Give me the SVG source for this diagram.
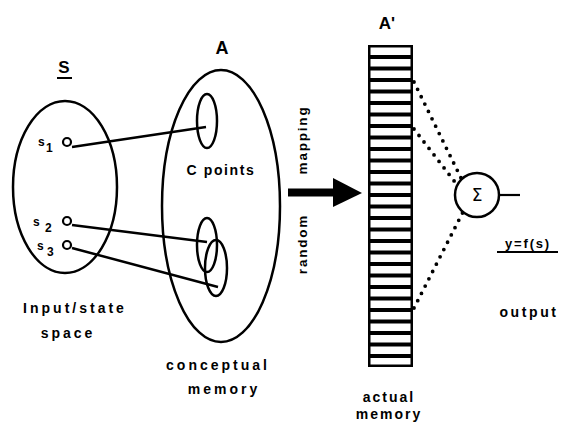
<svg xmlns="http://www.w3.org/2000/svg" width="562" height="423" viewBox="0 0 562 423">
<style>
.t{font-family:"Liberation Sans",Arial,sans-serif;font-weight:bold;fill:#000}
.lbl{font-size:14px;letter-spacing:3px}
.ln{fill:none;stroke:#000;stroke-width:2.5}
.thin{fill:none;stroke:#000;stroke-width:2.2}
.dot{fill:none;stroke:#000;stroke-width:3.8;stroke-linecap:round;stroke-dasharray:0 8.2}
.cell{fill:#fff}
</style>
<rect width="562" height="423" fill="#fff"/>

<g id="S-space">
  <ellipse cx="65" cy="187" rx="52" ry="86" class="ln"/>
  <text x="64" y="73" class="t" font-size="17" text-anchor="middle">S</text>
  <line x1="57" y1="78" x2="72" y2="78" stroke="#000" stroke-width="2"/>
  <text x="75" y="313" class="t lbl" text-anchor="middle">Input/state</text>
  <text x="68" y="338" class="t lbl" text-anchor="middle">space</text>
</g>

<g id="s1">
  <text x="38" y="146" class="t" font-size="12">s</text>
  <text x="46" y="152" class="t" font-size="12">1</text>
  <circle cx="67" cy="142" r="4" class="thin"/>
</g>
<g id="s2">
  <text x="33" y="226" class="t" font-size="12">s</text>
  <text x="45" y="232" class="t" font-size="12">2</text>
  <circle cx="67" cy="221" r="4" class="thin"/>
</g>
<g id="s3">
  <text x="37" y="250" class="t" font-size="12">s</text>
  <text x="47" y="256" class="t" font-size="12">3</text>
  <circle cx="67" cy="245" r="4" class="thin"/>
</g>

<g id="A-space">
  <ellipse cx="221" cy="206" rx="59" ry="136" class="ln"/>
  <text x="222" y="54" class="t" font-size="18" text-anchor="middle">A</text>
  <ellipse cx="207" cy="121" rx="10" ry="27" class="ln"/>
  <ellipse cx="207" cy="245" rx="10" ry="27" class="ln"/>
  <ellipse cx="216" cy="268" rx="11" ry="28" class="ln"/>
  <text x="221" y="175" class="t" font-size="14" letter-spacing="1.6" text-anchor="middle">C  points</text>
  <text x="218" y="370" class="t lbl" text-anchor="middle">conceptual</text>
  <text x="224" y="394" class="t lbl" text-anchor="middle">memory</text>
</g>

<g id="connectors">
  <line x1="72" y1="147" x2="206" y2="127" class="ln"/>
  <line x1="72" y1="225" x2="207" y2="242" class="ln"/>
  <line x1="72" y1="248" x2="218" y2="287" class="ln"/>
  <line x1="288" y1="192.5" x2="336" y2="192.5" stroke="#000" stroke-width="8"/>
  <polygon points="333,178 362,193 333,207" fill="#000"/>
  <line x1="414" y1="82" x2="462" y2="180" class="dot"/>
  <line x1="414" y1="129" x2="458" y2="186" class="dot"/>
  <line x1="414" y1="308" x2="463" y2="212" class="dot"/>
  <line x1="499" y1="195" x2="520" y2="195" stroke="#000" stroke-width="2.2"/>
</g>

<g id="mapping-label">
  <text transform="translate(307,140) rotate(-90)" class="t" font-size="13.5" letter-spacing="1.8" text-anchor="middle">mapping</text>
  <text transform="translate(307,244) rotate(-90)" class="t" font-size="13.5" letter-spacing="1.8" text-anchor="middle">random</text>
</g>

<g id="A-prime">
  <text x="387" y="29" class="t" font-size="17" text-anchor="middle">A'</text>
  <rect x="368" y="45" width="45" height="322" fill="#000"/>
  <rect x="370.5" y="47.5" width="40" height="7.5" class="cell"/>
  <rect x="370.5" y="59" width="40" height="7.5" class="cell"/>
  <rect x="370.5" y="70.5" width="40" height="7.5" class="cell"/>
  <rect x="370.5" y="82" width="40" height="7.5" class="cell"/>
  <rect x="370.5" y="93.5" width="40" height="7.5" class="cell"/>
  <rect x="370.5" y="105" width="40" height="7.5" class="cell"/>
  <rect x="370.5" y="116.5" width="40" height="7.5" class="cell"/>
  <rect x="370.5" y="128" width="40" height="7.5" class="cell"/>
  <rect x="370.5" y="139.5" width="40" height="7.5" class="cell"/>
  <rect x="370.5" y="151" width="40" height="7.5" class="cell"/>
  <rect x="370.5" y="162.5" width="40" height="7.5" class="cell"/>
  <rect x="370.5" y="174" width="40" height="7.5" class="cell"/>
  <rect x="370.5" y="185.5" width="40" height="7.5" class="cell"/>
  <rect x="370.5" y="197" width="40" height="7.5" class="cell"/>
  <rect x="370.5" y="208.5" width="40" height="7.5" class="cell"/>
  <rect x="370.5" y="220" width="40" height="7.5" class="cell"/>
  <rect x="370.5" y="231.5" width="40" height="7.5" class="cell"/>
  <rect x="370.5" y="243" width="40" height="7.5" class="cell"/>
  <rect x="370.5" y="254.5" width="40" height="7.5" class="cell"/>
  <rect x="370.5" y="266" width="40" height="7.5" class="cell"/>
  <rect x="370.5" y="277.5" width="40" height="7.5" class="cell"/>
  <rect x="370.5" y="289" width="40" height="7.5" class="cell"/>
  <rect x="370.5" y="300.5" width="40" height="7.5" class="cell"/>
  <rect x="370.5" y="312" width="40" height="7.5" class="cell"/>
  <rect x="370.5" y="323.5" width="40" height="7.5" class="cell"/>
  <rect x="370.5" y="335" width="40" height="7.5" class="cell"/>
  <rect x="370.5" y="346.5" width="40" height="7.5" class="cell"/>
  <rect x="370.5" y="358" width="40" height="6.5" class="cell"/>
  <text x="389" y="402" class="t" font-size="14" letter-spacing="2" text-anchor="middle">actual</text>
  <text x="389" y="419" class="t" font-size="14" letter-spacing="2" text-anchor="middle">memory</text>
</g>

<g id="sum">
  <circle cx="477" cy="195" r="22" class="ln" fill="#fff"/>
  <text x="477" y="201" font-family="DejaVu Sans,sans-serif" font-size="17" text-anchor="middle">Σ</text>
</g>

<g id="output">
  <text x="528" y="248" class="t" font-size="13" letter-spacing="1.8" text-anchor="middle">y=f(s)</text>
  <line x1="497" y1="252" x2="558" y2="252" stroke="#000" stroke-width="1.8"/>
  <text x="529" y="317" class="t" font-size="14" letter-spacing="2.6" text-anchor="middle">output</text>
</g>
</svg>
